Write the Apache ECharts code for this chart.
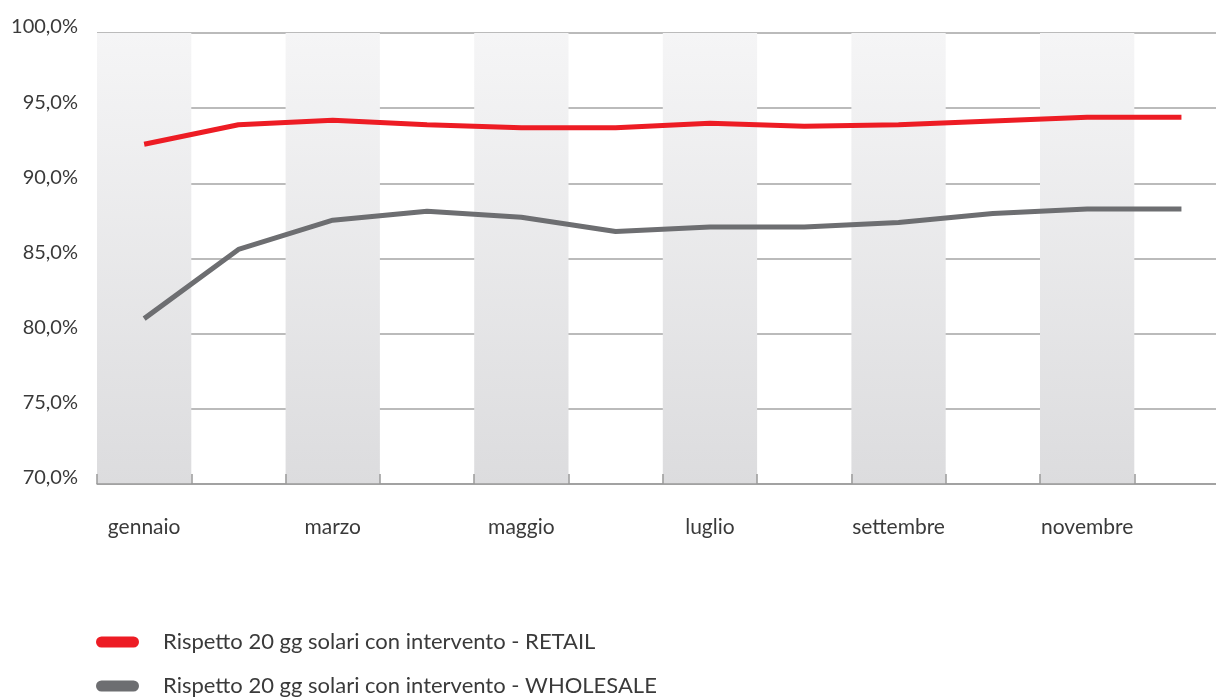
<!DOCTYPE html>
<html><head><meta charset="utf-8">
<script src="https://cdn.jsdelivr.net/npm/echarts@6/dist/echarts.min.js"></script>
<style>html,body{margin:0;padding:0;background:#fff}#c{width:1216px;height:700px}</style>
</head><body><div id="c"></div>
<script>
const months = ['gennaio','febbraio','marzo','aprile','maggio','giugno','luglio','agosto','settembre','ottobre','novembre','dicembre'];
const retail = [92.6, 93.9, 94.2, 93.9, 93.7, 93.7, 94.0, 93.8, 93.9, 94.15, 94.4, 94.4];
const wholesale = [81.0, 85.6, 87.55, 88.15, 87.75, 86.8, 87.1, 87.1, 87.4, 88.0, 88.3, 88.3];
const seriesNames = ['Rispetto 20 gg solari con intervento - RETAIL','Rispetto 20 gg solari con intervento - WHOLESALE'];
const font = 'Lato, "Open Sans", sans-serif';
const chart = echarts.init(document.getElementById('c'), null, {renderer:'canvas'});
chart.setOption({
  animation:false,
  grid:{left:97, top:33, height:451, width:1131.6, containLabel:false, outerBoundsMode:'none'},
  xAxis:{
    type:'category', data:months, boundaryGap:true,
    axisLine:{lineStyle:{color:'#9a9a9a', width:1.5}},
    axisTick:{show:true, inside:true, length:10, interval:0, lineStyle:{color:'#9a9a9a', width:1.5}},
    axisLabel:{interval:1, margin:33, fontSize:21, color:'#3a3a3a', fontFamily:font},
    splitArea:{show:true, interval:0, areaStyle:{color:[
      new echarts.graphic.LinearGradient(0,0,0,1,[{offset:0,color:'#f5f5f6'},{offset:1,color:'#dcdcde'}]),
      'rgba(255,255,255,0)']}},
    splitLine:{show:false}
  },
  yAxis:{
    type:'value', min:70, max:100, interval:5,
    axisLine:{show:false}, axisTick:{show:false},
    axisLabel:{margin:19, fontSize:20, color:'#3a3a3a', fontFamily:font, verticalAlign:'bottom', lineHeight:12,
      formatter:v=>v.toFixed(1).replace('.',',')+'%'},
    splitLine:{lineStyle:{color:'#a5a5a5', width:1.5}}
  },
  legend:{
    orient:'vertical', left:96, top:631, padding:0,
    icon:'path://M5.5,0 H37.5 A5.5,5.5 0 0 1 37.5,11 H5.5 A5.5,5.5 0 0 1 5.5,0 Z',
    itemWidth:43, itemHeight:11,
    itemGap:22, textStyle:{fontSize:22, color:'#3a3a3a', fontFamily:font, padding:[0,0,0,19]},
    data:seriesNames
  },
  series:[
    {name:seriesNames[0], type:'line', data:retail, symbol:'none', lineStyle:{color:'#ed1c24', width:5}, itemStyle:{color:'#ed1c24'}},
    {name:seriesNames[1], type:'line', data:wholesale, symbol:'none', lineStyle:{color:'#6d6e71', width:5}, itemStyle:{color:'#6d6e71'}}
  ]
});
</script></body></html>
